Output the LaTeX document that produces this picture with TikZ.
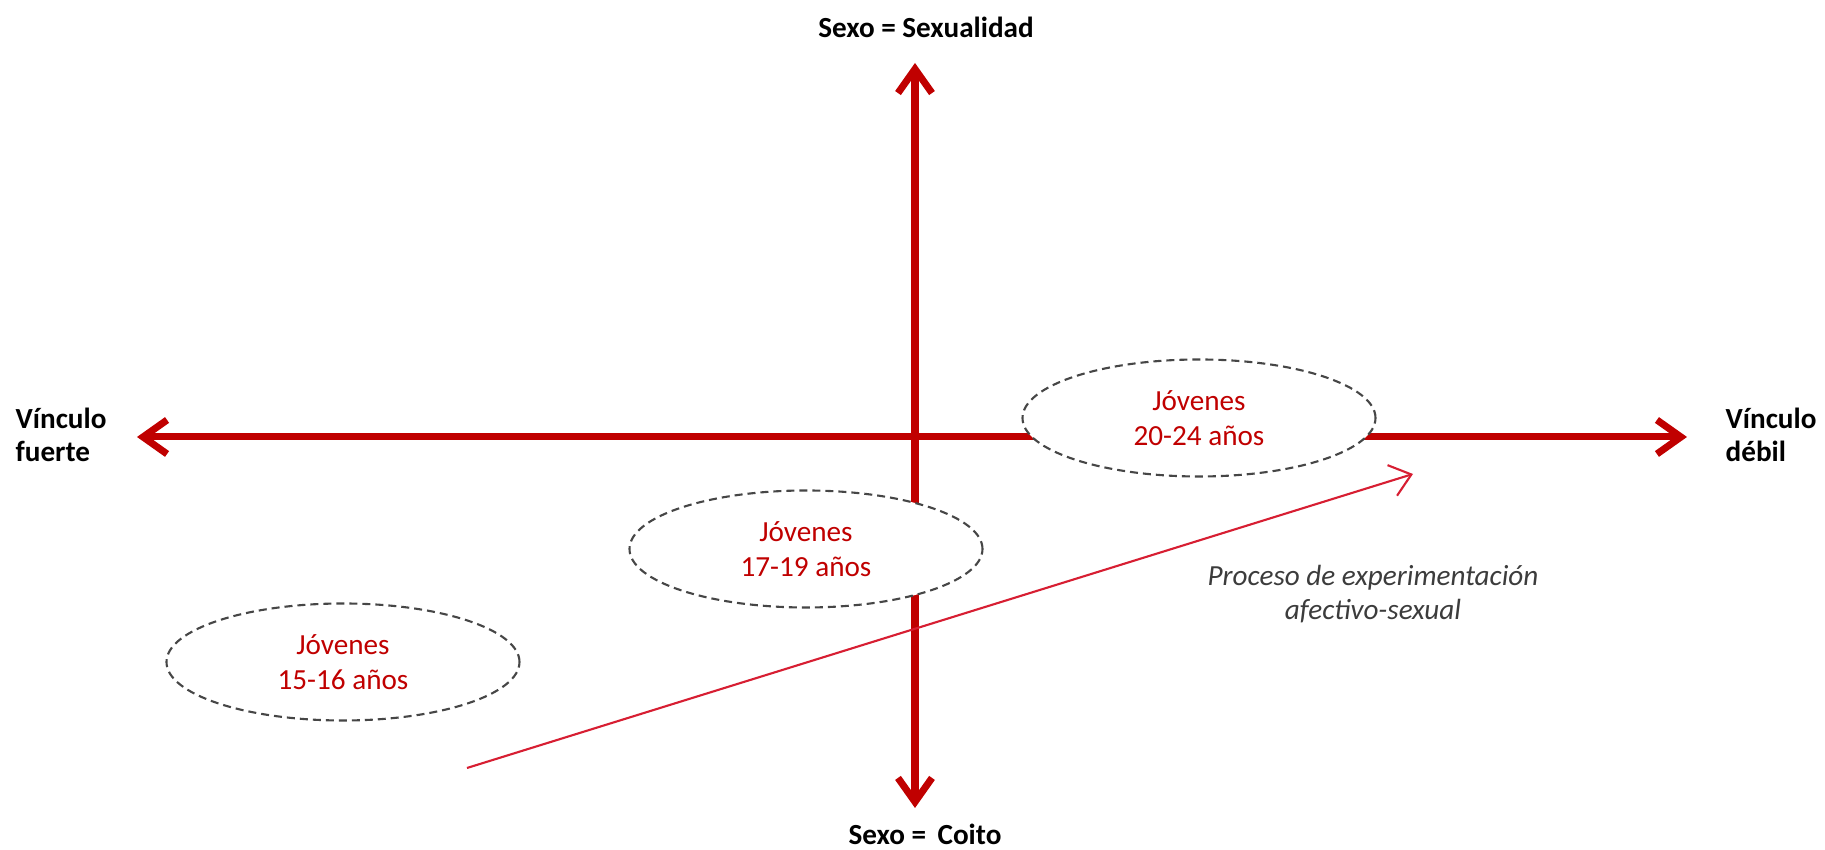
\documentclass[tikz,border=0pt]{standalone}
\usepackage{fontspec}
\setmainfont{Carlito}
\usepackage{xcolor}
\usetikzlibrary{arrows.meta, shapes.geometric}
\definecolor{ejered}{RGB}{192, 0, 0}
\definecolor{procesored}{RGB}{215, 30, 50}
\definecolor{bordegris}{RGB}{70, 70, 70}
\definecolor{textogris}{RGB}{60, 60, 60}

\tikzset{
    eje/.style={ejered, line width=2pt, {Straight Barb[length=2.4mm, width=3.4mm, line width=2pt]}-{Straight Barb[length=2.4mm, width=3.4mm, line width=2pt]}},
    grupo/.style={ellipse, draw=bordegris, line width=0.6pt, dash pattern=on 0.08cm off 0.05cm, fill=white,
        minimum width=3.53cm, minimum height=1.17cm, inner sep=0pt, align=center,
        text=ejered, font=\fontsize{8.3}{9.8}\selectfont},
    rotulo/.style={font=\fontsize{8.3}{9.6}\selectfont\bfseries, align=left, inner sep=0pt}
}

\begin{document}
\begin{tikzpicture}
    \useasboundingbox (-9.15, -4.13) rectangle (9.10, 4.37);
    % ejes
    \coordinate (arriba) at (0, 3.74);
    \coordinate (abajo) at (0, -3.71);
    \coordinate (izquierda) at (-7.78, 0);
    \coordinate (derecha) at (7.72, 0);
    \draw[eje] (izquierda) -- (derecha);
    \draw[eje] (abajo) -- (arriba);

    \node[rotulo] (sexualidad) at (0.11, 4.10) {Sexo = Sexualidad};
    \node[rotulo] (coito) at (0.10, -3.97) {Sexo = \,Coito};
    \node[rotulo, anchor=west] (fuerte) at (-9.00, 0.02) {Vínculo\\fuerte};
    \node[rotulo, anchor=west] (debil) at (8.10, 0.02) {Vínculo\\débil};

    % grupos de edad
    \node[grupo] (veinte) at (2.84, 0.19) {Jóvenes\\20-24 años};
    \node[grupo] (diecisiete) at (-1.09, -1.12) {Jóvenes\\17-19 años};
    \node[grupo] (quince) at (-5.72, -2.25) {Jóvenes\\15-16 años};

    % proceso
    \coordinate (inicio) at (-4.48, -3.31);
    \coordinate (fin) at (4.98, -0.37);
    \draw[procesored, line width=0.6pt, -{Straight Barb[length=2mm, width=3.2mm]}] (inicio) -- (fin);
    \node[text=textogris, align=center, font=\fontsize{8.3}{9.6}\selectfont\itshape] (proceso) at (4.58, -1.57)
        {Proceso de experimentación\\afectivo-sexual};
\end{tikzpicture}
\end{document}
